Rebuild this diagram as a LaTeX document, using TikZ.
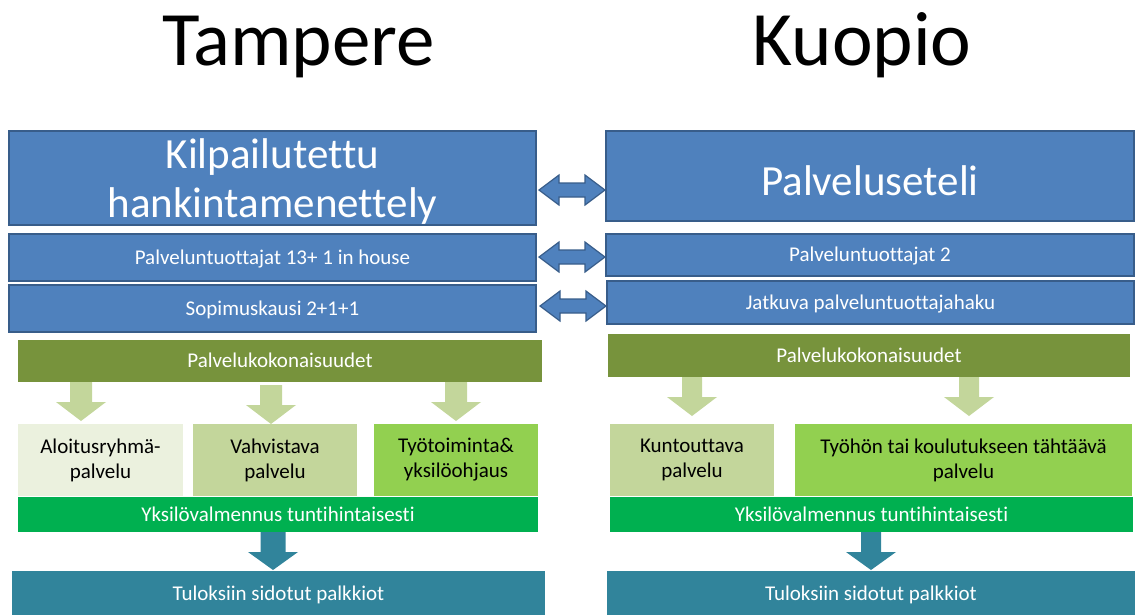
\documentclass[tikz,border=0pt]{standalone}
\usepackage{fontspec}
\setmainfont{Carlito}[Ligatures=NoCommon]
\definecolor{bfill}{HTML}{4F81BD}
\definecolor{bborder}{HTML}{385D8A}
\definecolor{olive}{HTML}{77933C}
\definecolor{lightarr}{HTML}{C3D69B}
\definecolor{paleg}{HTML}{EBF1DE}
\definecolor{midg}{HTML}{C3D69B}
\definecolor{brightg}{HTML}{92D050}
\definecolor{greenbar}{HTML}{00B050}
\definecolor{tealc}{HTML}{31849B}
\newcommand\DblArr[2]{%
  \filldraw[fill=bfill, draw=bborder, line width=1.2pt, line join=miter]
    (#1,#2) -- (#1+20,#2-15) -- (#1+20,#2-7) -- (#1+46,#2-7) -- (#1+46,#2-15)
    -- (#1+66,#2) -- (#1+46,#2+15) -- (#1+46,#2+7) -- (#1+20,#2+7) -- (#1+20,#2+15) -- cycle;}
% color, cx, top, headstart, tip, shafthalf, headhalf
\newcommand\DownArr[7]{%
  \fill[#1] (#2-#6,#3) -- (#2+#6,#3) -- (#2+#6,#4) -- (#2+#7,#4) -- (#2,#5)
    -- (#2-#7,#4) -- (#2-#6,#4) -- cycle;}
\begin{document}
\begin{tikzpicture}[x=1pt,y=-1pt,
  bluebox/.style={draw=bborder, fill=bfill, line width=1.5pt, text=white,
    inner sep=0pt, font=\fontsize{21}{25}\selectfont, align=center},
  flatbox/.style={inner sep=0pt, draw=none, font=\fontsize{21}{25}\selectfont, align=center},
  oneline/.style={text height=15pt, text depth=2pt},
  title/.style={font=\fontsize{77}{77}\selectfont, anchor=base, inner sep=0pt}]
\useasboundingbox (0,0) rectangle (1144,614);

% titles
\node[title] (tt) at (298.5,65) {Tampere};
\node[title] (tk) at (862,65) {Kuopio};

% blue boxes left
\node[bluebox, minimum width=527pt, minimum height=94pt, font=\fontsize{43}{49}\selectfont] (kl1) at (272.5,178)
  {\raisebox{-11pt}[0pt][0pt]{\begin{tabular}{@{}c@{}}Kilpailutettu\\hankintamenettely\end{tabular}}};
\node[bluebox, oneline, minimum width=527pt, minimum height=47pt] (kl2) at (272.5,257.5) {Palveluntuottajat 13+ 1 in house};
\node[bluebox, oneline, minimum width=527pt, minimum height=47pt] (kl3) at (272.5,308.5) {Sopimuskausi 2+1+1};
% blue boxes right
\node[bluebox, minimum width=528pt, minimum height=90pt, font=\fontsize{43}{49}\selectfont, text height=40pt, text depth=2pt] (kr1) at (870,176) {Palveluseteli};
\node[bluebox, oneline, minimum width=528pt, minimum height=42pt] (kr2) at (870,255) {Palveluntuottajat 2};
\node[bluebox, oneline, minimum width=527pt, minimum height=43pt] (kr3) at (870.5,302.5) {Jatkuva palveluntuottajahaku};

% double arrows
\DblArr{539}{190}
\DblArr{539}{257}
\DblArr{540}{306}

% olive bars
\node[flatbox, oneline, fill=olive, text=white, minimum width=524pt, minimum height=42pt] (gl) at (280,361) {Palvelukokonaisuudet};
\node[flatbox, oneline, fill=olive, text=white, minimum width=522pt, minimum height=43pt] (gr) at (869,355.5) {Palvelukokonaisuudet};

% light arrows
\DownArr{lightarr}{81}{382}{402}{421}{11}{25}
\DownArr{lightarr}{271}{385}{405}{424}{11}{25}
\DownArr{lightarr}{456}{382}{402}{421}{11}{25}
\DownArr{lightarr}{692}{377}{397}{416}{10}{25}
\DownArr{lightarr}{969}{377}{397}{416}{10}{25}

% service boxes left
\node[flatbox, fill=paleg, minimum width=165pt, minimum height=72pt] (sa) at (100.5,460) {Aloitusryhmä-\\palvelu};
\node[flatbox, fill=midg, minimum width=164pt, minimum height=72pt] (sb) at (275,460) {Vahvistava\\palvelu};
\node[flatbox, fill=brightg, minimum width=164pt, minimum height=72pt] (sc) at (456,460) {Työtoiminta\&\\yksilöohjaus};
% service boxes right
\node[flatbox, fill=midg, minimum width=164pt, minimum height=72pt] (sd) at (692,460) {Kuntouttava\\palvelu};
\node[flatbox, fill=brightg, minimum width=337pt, minimum height=72pt] (se) at (963.5,460) {Työhön tai koulutukseen tähtäävä\\palvelu};

% green bars
\node[flatbox, oneline, fill=greenbar, text=white, minimum width=520pt, minimum height=35pt] (yl) at (278,514.5) {Yksilövalmennus tuntihintaisesti};
\node[flatbox, oneline, fill=greenbar, text=white, minimum width=523pt, minimum height=35pt] (yr) at (871.5,514.5) {Yksilövalmennus tuntihintaisesti};

% teal arrows
\DownArr{tealc}{273}{532}{552}{570}{12.5}{25}
\DownArr{tealc}{871}{532}{552}{570}{10}{25}

% teal bars
\node[flatbox, oneline, fill=tealc, text=white, minimum width=533pt, minimum height=46pt] (tl) at (278.5,594) {Tuloksiin sidotut palkkiot};
\node[flatbox, oneline, fill=tealc, text=white, minimum width=528pt, minimum height=46pt] (tr) at (871,594) {Tuloksiin sidotut palkkiot};
\end{tikzpicture}
\end{document}
